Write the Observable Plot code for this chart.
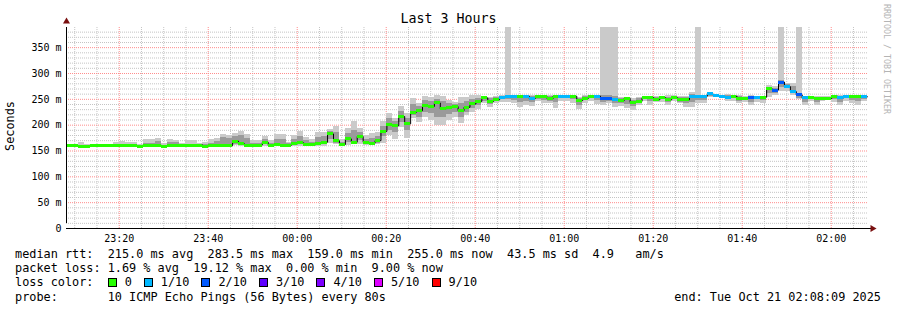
<!DOCTYPE html>
<html>
<head>
<meta charset="utf-8">
<script src="https://cdn.jsdelivr.net/npm/d3@7"></script>
<script src="https://cdn.jsdelivr.net/npm/@observablehq/plot@0.6"></script>
<style>
  html, body { margin: 0; padding: 0; background: #fff; }
  #wrap { position: relative; width: 897px; height: 310px; overflow: hidden; background: #fff;
          font-family: "DejaVu Sans Mono", monospace; color: #000; }
  #chart { position: absolute; left: 0; top: 0; }
  .title { position: absolute; left: 0; width: 897px; top: 11px; text-align: center; font-size: 13.3px; line-height: 16px; }
  .ylab { position: absolute; left: 10px; top: 126px; font-size: 11.85px; transform: translate(-50%, -50%) rotate(-90deg); white-space: nowrap; }
  .brand { position: absolute; left: 887px; top: 59px; font-size: 8.3px; color: #b4b4b4; transform: translate(-50%, -50%) rotate(90deg); white-space: nowrap; }
  .lg { position: absolute; left: 15px; font-size: 11.85px; line-height: 14px; white-space: pre; }
  .end { position: absolute; right: 16px; font-size: 11.85px; line-height: 14px; white-space: pre; }
  .sw { display: inline-block; width: 7px; height: 7px; border: 1px solid #000; vertical-align: -1px; margin-right: 8px; }
  .it { display: inline-block; margin-right: 12px; }
</style>
</head>
<body>
<div id="wrap">
  <div id="chart"></div>
  <div class="title" id="title"></div>
  <div class="ylab" id="ylab"></div>
  <div class="brand" id="brand"></div>
  <div class="lg" id="l1" style="top:247px"></div>
  <div class="lg" id="l2" style="top:261px"></div>
  <div class="lg" id="l3" style="top:275px"></div>
  <div class="lg" id="l4" style="top:290px"></div>
  <div class="end" id="l5" style="top:290px"></div>
</div>
<script>
// ---------------- data ----------------
const END_TIME = "2025-10-21T02:08:09Z";
const STEP_SECONDS = 80;
const Y_TOP = 389;

const medianRtt = [
  160,160,159,159,160,160,160,160,160,160,160,160,159,160,160,
  161,159.5,160,160,160,160,161.5,161.5,159.5,161.5,161.5,160,160,
  169,164,160.5,161.5,161.5,167,160.5,162,161.5,161.5,164,165.7,
  162,162,165,167,183,170,162.5,173.5,167,178,167,165,170,188,
  201,199,216.6,202.5,225,228,238,236,243,231.5,234.6,236,228,234.6,
  241,246,252.7,246,249,254,256,256,256,256,251.4,255,255,251,
  256,256,256,256,247.5,252,256,256,251,251,249,247.5,252,244,
  246,253,253,249,253,249,253,249,249,256,256,256,260.5,258,
  256,253.5,256,252,252,254,254,254,270,268,283.5,274.6,265,258.5,
  252.7,252.7,252,252,252,256,252.7,256,256,256,255
];
const lossCount = [
  0,0,0,0,0,0,0,0,0,0,0,0,0,0,0,
  0,0,0,0,0,0,0,0,0,0,0,0,0,
  0,0,0,0,0,0,0,0,0,0,0,0,
  0,0,0,0,0,0,0,0,0,0,0,0,0,0,
  0,0,0,0,0,0,0,0,0,0,0,0,0,0,
  0,0,0,0,0,1,1,1,0,1,1,0,0,0,
  0,1,1,0,0,0,0,1,2,2,1,0,0,0,
  0,0,0,0,0,0,0,0,0,1,1,1,1,1,
  1,1,0,0,0,2,1,0,0,2,2,1,1,2,
  1,0,0,0,0,0,1,1,0,0,1
];
const smokeHi = [
  162,163,166,163,162,163,163,162,167,168,167,167,163,172,172,
  174,165,172,170,164,171,171,164,166,173,175,182,180,
  183,188,182,170,170,178,170,182,182,167,180,188,
  176.6,171.5,186,186,191,197,172,193,207.5,193,180,183,186,207.5,
  222,213,236,222,251,241,255,253,257,255,247.5,244,253,254,
  257,257,255,254,255,257,389,258,258,258,258,257,257,257,
  258,258,258,258,254,257,258,258,389,389,389,254,254,251,
  254,256,256,256,256,257,257,256,256,263.6,389,258,262,260,
  258,260,258,258,256,258,256,256,276.6,274.6,389,281,281,389,
  256,255,255,255,255,258,258,258,258,258,258
];
const smokeLo = [
  158,158,158,158,158,158,158,158,158,158,158,158,158,158,158,
  158,158,158,158,158,158,158,158,158,158,158,158,158,
  160,159,158,158,158,159,158,158,158,158,158,159,
  158,158,158,159,165,162,160,160,164,163,160,160,162,165,
  180,171.5,196,173.5,212,205.5,215,209,199,199,209,214,203.5,218,
  225,229.6,241,234.6,241,244,244,241,234.6,238,236,246,242,241,
  232.7,246,246,242,230,242,246,240,238,241,234.6,236,231.5,228,
  238,246,238,244,244,238,246,241,234.6,234.6,241,241,252.7,252.7,
  252.7,246,246,241,244,238,244,241,254,257,265.6,265.6,257,249,
  238,246,238,246,249,244,238,246,241,238,246
];
const midHi = [
  160,160,161,160,160,160,161,160,163,163,163,163,160,165,165,
  168,161,166,166,161,163,163,161,162,165,168,176,175,
  178,180,175,165,165,172,164,172,172,164,172,178,
  170,166,176,178,188,185,166,183,190,186,172,175,178,198,
  212,207,226,212,240,236,248,246,250,245,242,240,242,245,
  250,252,254,252,253,256,258,257,257,257,256,256,256,255,
  257,257,257,257,252,255,257,257,258,258,256,251,254,248,
  251,255,255,253,255,254,255,253,253,259,258,257,261.5,259.5,
  257,257,257,255,254,256,255,255,273,271,287,278,274,262,
  254,254,254,254,254,257,255,257,257,257,257
];
const midLo = [
  159,159,158.5,158.5,159,159,159,159,159,159,159,159,158.5,159,159,
  159,158.5,159,159,159,159,160,160,158.5,160,160,159,159,
  163,161,159,160,160,162,159.5,160.5,160,160,161,162,
  160,160,162,163,172,165,161,166,165,170,163,162,165,178,
  190,185,205,190,218,215,225,222,215,215,220,225,215,225,
  232,238,246,240,245,250,250,248,244,246,244,250,248,246,
  244,251,251,249,238,247,251,248,244,246,241,242,240,236,
  241,250,245,247,250,244,250,244,242,244,247,248,256,255,
  254,250,251,246,248,244,249,247,262,262,272,270,261,252,
  244,249,244,249,250,250,244,251,248,246,250
];

const yTicks = [0, 50, 100, 150, 200, 250, 300, 350];
const yTickLabels = ["0", "50 m", "100 m", "150 m", "200 m", "250 m", "300 m", "350 m"];
const xTickTimes = ["2025-10-20T23:20:00Z","2025-10-20T23:40:00Z","2025-10-21T00:00:00Z","2025-10-21T00:20:00Z",
                    "2025-10-21T00:40:00Z","2025-10-21T01:00:00Z","2025-10-21T01:20:00Z","2025-10-21T01:40:00Z","2025-10-21T02:00:00Z"];
const xTickLabels = ["23:20","23:40","00:00","00:20","00:40","01:00","01:20","01:40","02:00"];

const lossLevels = [0, 1, 2, 3, 4, 5, 9];
const lossLabels = ["0", "1/10", "2/10", "3/10", "4/10", "5/10", "9/10"];
const lossColors = ["#26ff00", "#00b8ff", "#0059ff", "#5e00ff", "#7e00ff", "#dd00ff", "#ff0000"];

const titleText = "Last 3 Hours";
const yLabelText = "Seconds";
const brandText = "RRDTOOL / TOBI OETIKER";
const legendLines = [
  "median rtt:  215.0 ms avg  283.5 ms max  159.0 ms min  255.0 ms now  43.5 ms sd  4.9   am/s",
  "packet loss: 1.69 % avg  19.12 % max  0.00 % min  9.00 % now",
  "loss color:  ",
  "probe:       10 ICMP Echo Pings (56 Bytes) every 80s"
];
const endText = "end: Tue Oct 21 02:08:09 2025";

// ---------------- build ----------------
const end = new Date(END_TIME);
const stepMs = STEP_SECONDS * 1000;
const start = new Date(+end - medianRtt.length * stepMs);
const steps = medianRtt.map((m, i) => ({
  t0: new Date(+start + i * stepMs),
  t1: new Date(+start + (i + 1) * stepMs),
  median: m,
  color: lossColors[lossLevels.indexOf(lossCount[i])],
  hi: smokeHi[i], lo: smokeLo[i], mhi: midHi[i], mlo: midLo[i]
}));
const linePts = steps.map(d => ({t: d.t0, v: d.median})).concat([{t: end, v: medianRtt[medianRtt.length - 1]}]);

const minorY = d3.range(10, Y_TOP, 10).filter(v => v % 50 !== 0);
const majorY = yTicks.filter(v => v > 0);
const fiveMin = d3.utcMinute.every(5).range(start, end);
const minorX = fiveMin.filter(d => d.getUTCMinutes() % 20 !== 0);
const majorX = fiveMin.filter(d => d.getUTCMinutes() % 20 === 0);
const xTickDates = xTickTimes.map(s => new Date(s));

const plot = Plot.plot({
  width: 897,
  height: 245,
  marginLeft: 66,
  marginRight: 30,
  marginTop: 27,
  marginBottom: 17,
  style: {fontFamily: "DejaVu Sans Mono", fontSize: "10px", background: "transparent", color: "#000"},
  x: {type: "utc", domain: [start, end]},
  y: {domain: [0, Y_TOP]},
  color: {type: "identity"},
  marks: [
    Plot.ruleY(minorY, {stroke: "#c4c4c4", strokeDasharray: "1,1"}),
    Plot.ruleX(minorX, {stroke: "#c4c4c4", strokeDasharray: "1,1"}),
    Plot.ruleY(majorY, {stroke: "#ff8c8c", strokeDasharray: "1,1"}),
    Plot.ruleX(majorX, {stroke: "#ff8c8c", strokeDasharray: "1,1"}),
    Plot.rect(steps, {x1: "t0", x2: "t1", y1: "lo", y2: "hi", fill: "#cacaca", shapeRendering: "crispEdges"}),
    Plot.rect(steps, {x1: "t0", x2: "t1", y1: "mlo", y2: "mhi", fill: "#9a9a9a", shapeRendering: "crispEdges"}),
    Plot.line(linePts, {x: "t", y: "v", curve: "step-after", stroke: "#000", strokeWidth: 1}),
    Plot.ruleY(steps, {y: "median", x1: "t0", x2: "t1", stroke: "color", strokeWidth: 3, shapeRendering: "crispEdges"}),
    Plot.ruleX([start], {y1: 0, y2: Y_TOP, insetTop: -5, stroke: "#000"}),
    Plot.ruleY([0], {x1: start, x2: end, insetRight: -4, stroke: "#000"}),
    Plot.dot([start], {x: d => d, y: () => Y_TOP, symbol: "triangle", r: 2.6, fill: "#7a1010", stroke: null, dy: -6}),
    Plot.dot([end], {x: d => d, y: () => 0, symbol: "triangle", r: 2.6, fill: "#7a1010", stroke: null, rotate: 90, dx: 5}),
    Plot.axisY(yTicks, {tickFormat: d => yTickLabels[yTicks.indexOf(d)], tickSize: 0, tickPadding: 5, label: null, fontSize: 10}),
    Plot.axisX(xTickDates, {tickFormat: d => xTickLabels[xTickDates.findIndex(t => +t === +d)], tickSize: 0, tickPadding: 6, label: null, fontSize: 10})
  ]
});
document.getElementById("chart").appendChild(plot);

document.getElementById("title").textContent = titleText;
document.getElementById("ylab").textContent = yLabelText;
document.getElementById("brand").textContent = brandText;
document.getElementById("l1").textContent = legendLines[0];
document.getElementById("l2").textContent = legendLines[1];
document.getElementById("l4").textContent = legendLines[3];
document.getElementById("l5").textContent = endText;
const l3 = document.getElementById("l3");
l3.appendChild(document.createTextNode(legendLines[2]));
lossLabels.forEach((lab, i) => {
  const it = document.createElement("span");
  it.className = "it";
  const sw = document.createElement("span");
  sw.className = "sw";
  sw.style.background = lossColors[i];
  it.appendChild(sw);
  it.appendChild(document.createTextNode(lab));
  l3.appendChild(it);
});
</script>
</body>
</html>
